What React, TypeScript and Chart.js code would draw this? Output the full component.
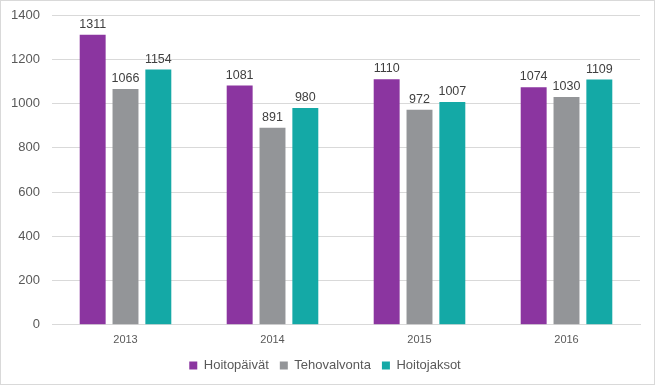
import React, { useEffect, useRef } from "react";
import { Chart, registerables } from "chart.js";

Chart.register(...registerables);

const categories = ["2013", "2014", "2015", "2016"];
const hoitopaivat = [1311, 1081, 1110, 1074];
const tehovalvonta = [1066, 891, 972, 1030];
const hoitojaksot = [1154, 980, 1007, 1109];
const yTicks = [0, 200, 400, 600, 800, 1000, 1200, 1400];

const labelPlugin = {
  id: "barLabels",
  afterDatasetsDraw(chart: any) {
    const ctx = chart.ctx;
    ctx.save();
    ctx.font = "12.5px 'Liberation Sans', Arial, sans-serif";
    ctx.fillStyle = "#404040";
    ctx.textAlign = "center";
    ctx.textBaseline = "bottom";
    chart.data.datasets.forEach((ds: any, i: number) => {
      const meta = chart.getDatasetMeta(i);
      meta.data.forEach((bar: any, j: number) => {
        ctx.fillText(String(ds.data[j]), bar.x, bar.y - 4);
      });
    });
    ctx.restore();
  },
};

export default function App() {
  const ref = useRef<HTMLCanvasElement>(null);
  useEffect(() => {
    document.body.style.margin = "0";
    const chart = new Chart(ref.current!, {
      type: "bar",
      data: {
        labels: categories,
        datasets: [
          { label: "Hoitopäivät", data: hoitopaivat, backgroundColor: "#8B35A0" },
          { label: "Tehovalvonta", data: tehovalvonta, backgroundColor: "#939598" },
          { label: "Hoitojaksot", data: hoitojaksot, backgroundColor: "#14A9A6" },
        ],
      },
      options: {
        animation: false,
        responsive: false,
        maintainAspectRatio: false,
        layout: { padding: { top: 14, right: 14, left: 9, bottom: 2 } },
        datasets: { bar: { barPercentage: 0.79, categoryPercentage: 0.67 } },
        plugins: {
          legend: {
            position: "bottom",
            labels: {
              boxWidth: 8,
              boxHeight: 8,
              padding: 11,
              color: "#595959",
              font: { size: 13, family: "'Liberation Sans Narrow', 'Liberation Sans', Arial, sans-serif" },
            },
          },
          tooltip: { enabled: false },
        },
        scales: {
          x: {
            grid: { display: false },
            border: { color: "#d9d9d9" },
            ticks: {
              color: "#595959",
              font: { size: 11, family: "'Liberation Sans Narrow', 'Liberation Sans', Arial, sans-serif" },
              padding: 1,
            },
          },
          y: {
            min: 0,
            max: 1400,
            afterBuildTicks: (axis: any) => {
              axis.ticks = yTicks.map((v) => ({ value: v }));
            },
            afterFit: (axis: any) => {
              axis.width = 42;
              axis.paddingTop = 0;
            },
            grid: { color: "#d9d9d9", drawTicks: false },
            border: { display: false },
            ticks: {
              color: "#595959",
              font: { size: 13, family: "'Liberation Sans', Arial, sans-serif" },
              padding: 12,
              callback: (v: any) => String(v),
            },
          },
        },
      },
      plugins: [labelPlugin],
    });
    return () => chart.destroy();
  }, []);
  return (
    <div
      style={{
        position: "relative",
        width: 655,
        height: 385,
        boxSizing: "border-box",
        border: "1px solid #d9d9d9",
        background: "#fff",
      }}
    >
      <canvas ref={ref} width={653} height={383} style={{ display: "block" }} />
    </div>
  );
}
